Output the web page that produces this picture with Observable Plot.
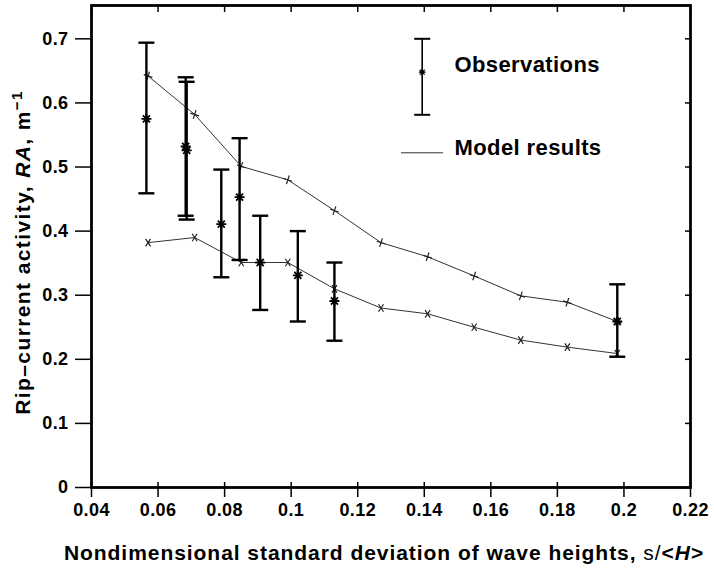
<!DOCTYPE html>
<html><head><meta charset="utf-8">
<script src="https://cdn.jsdelivr.net/npm/d3@7"></script>
<script src="https://cdn.jsdelivr.net/npm/@observablehq/plot@0.6"></script>
<style>body{margin:0;background:#fff;}</style>
</head><body><div id="chart"></div>
<script>
// Model results (two curves)
const modelX = [0.057, 0.071, 0.085, 0.099, 0.113, 0.127, 0.141, 0.155, 0.169, 0.183, 0.198];
const modelUpper = [0.642, 0.582, 0.501, 0.480, 0.432, 0.382, 0.360, 0.330, 0.299, 0.289, 0.259];
const modelLower = [0.382, 0.390, 0.351, 0.351, 0.310, 0.280, 0.271, 0.250, 0.230, 0.219, 0.209];
// Observations (mean and range)
const obsX    = [0.0565, 0.0683, 0.0686, 0.079, 0.0845, 0.0907, 0.102, 0.113, 0.198];
const obsMean = [0.575, 0.532, 0.526, 0.411, 0.453, 0.351, 0.331, 0.291, 0.259];
const obsLow  = [0.459, 0.424, 0.418, 0.328, 0.355, 0.277, 0.259, 0.229, 0.204];
const obsHigh = [0.694, 0.640, 0.633, 0.496, 0.545, 0.424, 0.400, 0.351, 0.317];
// Ticks
const xTicks = [0.04, 0.06, 0.08, 0.1, 0.12, 0.14, 0.16, 0.18, 0.2, 0.22];
const yTicks = [0, 0.1, 0.2, 0.3, 0.4, 0.5, 0.6, 0.7];
const legendObs = "Observations";
const legendModel = "Model results";
const xLabel = "Nondimensional standard deviation of wave heights, s/<H>";
const yLabel = "Rip–current activity, RA, m−1";

const upper = modelX.map((x, i) => ({x, y: modelUpper[i]}));
const lower = modelX.map((x, i) => ({x, y: modelLower[i]}));
const obs = obsX.map((x, i) => ({x, mean: obsMean[i], lo: obsLow[i], hi: obsHigh[i]}));

const fmt = d => String(+d.toFixed(2));
const rad = s => Math.sqrt(s / Math.PI);
const capSym = {draw(c, s) { const r = rad(s); c.moveTo(-r, 0); c.lineTo(r, 0); }};
const vSym = {draw(c, s) { const r = rad(s); c.moveTo(0, -r); c.lineTo(0, r); }};
const starSym = {draw(c, s) { const r = rad(s);
  for (let k = 0; k < 4; k++) { const a = k * Math.PI / 4;
    c.moveTo(-r * Math.cos(a), -r * Math.sin(a)); c.lineTo(r * Math.cos(a), r * Math.sin(a)); } }};
const plusSym = {draw(c, s) { const r = rad(s);
  for (const a of [Math.PI / 10, Math.PI / 10 + Math.PI / 2]) {
    c.moveTo(-r * Math.cos(a), -r * Math.sin(a)); c.lineTo(r * Math.cos(a), r * Math.sin(a)); } }};
const timesSym = {draw(c, s) { const r = rad(s);
  for (const a of [Math.PI / 3.2, Math.PI - Math.PI / 3.2]) {
    c.moveTo(-r * Math.cos(a), -r * Math.sin(a)); c.lineTo(r * Math.cos(a), r * Math.sin(a)); } }};

const chart = Plot.plot({
  width: 714, height: 573,
  marginLeft: 91, marginRight: 24, marginTop: 5, marginBottom: 86,
  x: {domain: [0.04, 0.22]},
  y: {domain: [0, 0.752]},
  style: {fontFamily: "'Liberation Sans', Arial, sans-serif", fontWeight: "bold", fontSize: "18px", color: "#000", background: "#fff", overflow: "visible", letterSpacing: "0.4px"},
  marks: [
    Plot.axisY({ticks: yTicks, tickSize: 16, tickPadding: 7, tickFormat: fmt, label: null, strokeWidth: 1.5}),
    Plot.axisY({anchor: "right", ticks: yTicks, tickSize: -6, tickFormat: () => "", label: null, strokeWidth: 1.5}),
    Plot.axisX({ticks: xTicks, tickSize: 10, tickPadding: 6, tickFormat: fmt, label: null, strokeWidth: 1.5}),
    Plot.axisX({ticks: xTicks, tickSize: -5, tickFormat: () => "", label: null, strokeWidth: 1.5}),
    Plot.axisX({anchor: "top", ticks: xTicks, tickSize: -6, tickFormat: () => "", label: null, strokeWidth: 1.5}),
    Plot.frame({strokeWidth: 2.8}),
    // model curves
    Plot.line(upper, {x: "x", y: "y", stroke: "#333", strokeWidth: 1}),
    Plot.line(lower, {x: "x", y: "y", stroke: "#333", strokeWidth: 1}),
    Plot.dot(upper, {x: "x", y: "y", symbol: plusSym, r: 4.5, stroke: "#222", strokeWidth: 1.2}),
    Plot.dot(lower, {x: "x", y: "y", symbol: timesSym, r: 4.5, stroke: "#222", strokeWidth: 1.2}),
    // observations
    Plot.ruleX(obs, {x: "x", y1: "lo", y2: "hi", stroke: "#000", strokeWidth: 2.4}),
    Plot.dot(obs, {x: "x", y: "hi", symbol: capSym, r: 8, stroke: "#000", strokeWidth: 2.4}),
    Plot.dot(obs, {x: "x", y: "lo", symbol: capSym, r: 8, stroke: "#000", strokeWidth: 2.4}),
    Plot.dot(obs, {x: "x", y: "mean", symbol: starSym, r: 5, stroke: "#000", strokeWidth: 1.8}),
    // legend
    Plot.dot([0], {frameAnchor: "top-left", dx: 330.7, dy: 71.3, symbol: vSym, r: 38, stroke: "#000", strokeWidth: 1.6}),
    Plot.dot([0], {frameAnchor: "top-left", dx: 330.7, dy: 33.3, symbol: capSym, r: 8, stroke: "#000", strokeWidth: 2}),
    Plot.dot([0], {frameAnchor: "top-left", dx: 330.7, dy: 109.3, symbol: capSym, r: 8, stroke: "#000", strokeWidth: 2}),
    Plot.dot([0], {frameAnchor: "top-left", dx: 330.7, dy: 66.7, symbol: starSym, r: 3.5, stroke: "#000", strokeWidth: 1.2}),
    Plot.dot([0], {frameAnchor: "top-left", dx: 330.5, dy: 147.3, symbol: capSym, r: 21, stroke: "#333", strokeWidth: 1}),
    Plot.text([legendObs], {text: d => d, frameAnchor: "top-left", dx: 363, dy: 59.7, textAnchor: "start", lineAnchor: "middle", fontSize: 22}),
    Plot.text([legendModel], {text: d => d, frameAnchor: "top-left", dx: 363, dy: 142, textAnchor: "start", lineAnchor: "middle", fontSize: 22}),
    // axis labels
    Plot.text([xLabel], {text: d => d, frameAnchor: "bottom", dx: -7, dy: 66, textAnchor: "middle", lineAnchor: "middle", fontSize: 21}),
    Plot.text([yLabel], {text: d => d, frameAnchor: "left", dx: -68, dy: 6, rotate: -90, textAnchor: "middle", lineAnchor: "middle", fontSize: 21})
  ]
});
document.getElementById("chart").append(chart);

// rich text styling for axis labels
const svg = d3.select(chart);
svg.selectAll("text").each(function() {
  const t = d3.select(this);
  const s = this.textContent;
  if (s === xLabel) {
    t.style("letter-spacing", "0.95px");
    t.text("Nondimensional standard deviation of wave heights, ");
    t.append("tspan").attr("font-weight", "normal").text("s/");
    t.append("tspan").text("<");
    t.append("tspan").attr("font-style", "italic").text("H");
    t.append("tspan").text(">");
  }
  if (s === yLabel) {
    t.style("letter-spacing", "1.4px");
    t.text("Rip–current activity, ");
    t.append("tspan").attr("font-style", "italic").text("RA");
    t.append("tspan").text(", m");
    t.append("tspan").attr("font-size", "15px").attr("dy", "-0.55em").text("−1");
  }
});
</script>
</body></html>
